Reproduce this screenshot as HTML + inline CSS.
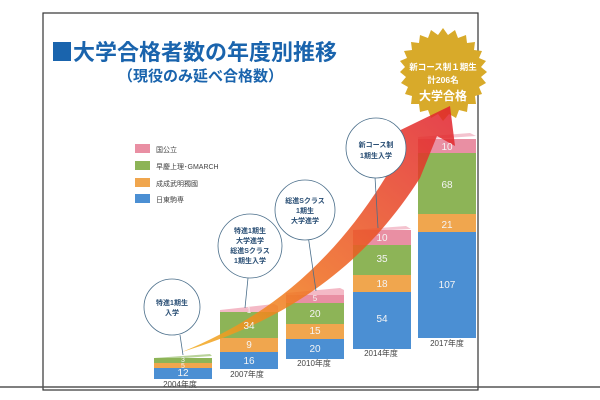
<!DOCTYPE html>
<html><head><meta charset="utf-8"><style>
body{margin:0;width:600px;height:400px;background:#fff;overflow:hidden}
svg{display:block}
text{font-family:"Liberation Sans","Noto Sans CJK JP",sans-serif}
</style></head><body>
<svg width="600" height="400" viewBox="0 0 600 400">
<defs>
<linearGradient id="ar" x1="0" y1="1" x2="1" y2="0">
<stop offset="0" stop-color="#f2b020"/><stop offset="0.4" stop-color="#ef6a1e"/><stop offset="1" stop-color="#e01f2e"/>
</linearGradient>
</defs>
<rect x="43" y="13" width="435" height="377" fill="none" stroke="#333" stroke-width="1.2"/>
<line x1="0" y1="387" x2="600" y2="387" stroke="#555" stroke-width="1.5"/>
<rect x="53" y="42" width="18" height="19" fill="#1a64ad"/>
<text x="73" y="60" font-size="22" font-weight="bold" fill="#1a64ad">大学合格者数の年度別推移</text>
<text x="118" y="81" font-size="15" font-weight="bold" fill="#1a64ad">（現役のみ延べ合格数）</text>
<!-- badge -->
<polygon fill="#d8aa2a" points="
443,28 448,35 455,30 458,38 466,35 467,43 475,42 474,50 482,51 479,58 486,61 481,67 487,72 481,77 486,83 479,87 482,94 475,96 476,104 468,104 467,112 459,110 456,118 449,114 443,121 438,114 431,118 428,110 420,112 419,104 411,104 412,96 405,94 408,87 401,83 406,77 400,72 405,67 400,61 407,58 404,51 412,50 411,42 419,43 420,35 428,38 431,30 438,35"/>
<text x="443" y="70" font-size="8.5" font-weight="bold" fill="#fff" text-anchor="middle">新コース制１期生</text>
<text x="443" y="83" font-size="8.5" font-weight="bold" fill="#fff" text-anchor="middle">計206名</text>
<text x="443" y="100" font-size="12" font-weight="bold" fill="#fff" text-anchor="middle">大学合格</text>
<!-- legend -->
<rect x="135" y="144" width="15" height="9" fill="#e98fa3"/>
<rect x="135" y="161" width="15" height="9" fill="#8db457"/>
<rect x="135" y="178" width="15" height="9" fill="#f0a64e"/>
<rect x="135" y="194" width="15" height="9" fill="#4b8fd3"/>
<g font-size="7" fill="#444">
<text x="156" y="152">国公立</text>
<text x="156" y="169">早慶上理･GMARCH</text>
<text x="156" y="186">成成武明獨國</text>
<text x="156" y="202">日東駒専</text>
</g>
<!-- bars -->
<g stroke="none">
<polygon points="154,358 210,354 212,356 156,360" fill="#b9d39a"/>
<rect x="154" y="358" width="58" height="5" fill="#8db457"/>
<rect x="154" y="363" width="58" height="5" fill="#f0a64e"/>
<rect x="154" y="368" width="58" height="11" fill="#4b8fd3"/>
<polygon points="220,310 274,304 278,306 278,312 220,314" fill="#f4b9c6"/>
<rect x="220" y="312" width="58" height="26" fill="#8db457"/>
<rect x="220" y="338" width="58" height="14" fill="#f0a64e"/>
<rect x="220" y="352" width="58" height="17" fill="#4b8fd3"/>
<polygon points="286,293 340,288 344,290 344,296 286,296" fill="#f4b9c6"/>
<rect x="286" y="295" width="58" height="8" fill="#e98fa3"/>
<rect x="286" y="303" width="58" height="21" fill="#8db457"/>
<rect x="286" y="324" width="58" height="15" fill="#f0a64e"/>
<rect x="286" y="339" width="58" height="20" fill="#4b8fd3"/>
<polygon points="353,230 406,226 411,229 353,232" fill="#f4c3cf"/>
<rect x="353" y="230" width="58" height="15" fill="#e98fa3"/>
<rect x="353" y="245" width="58" height="30" fill="#8db457"/>
<rect x="353" y="275" width="58" height="17" fill="#f0a64e"/>
<rect x="353" y="292" width="58" height="57" fill="#4b8fd3"/>
<polygon points="418,137 470,133 476,136 418,140" fill="#f4c3cf"/>
<rect x="418" y="139" width="58" height="14" fill="#e98fa3"/>
<rect x="418" y="153" width="58" height="61" fill="#8db457"/>
<rect x="418" y="214" width="58" height="18" fill="#f0a64e"/>
<rect x="418" y="232" width="58" height="106" fill="#4b8fd3"/>
</g>
<!-- arrow -->
<path d="M182,352 C260,320 330,270 390,170 L404,138 L380,140 L450,106 L455,146 L437,136 L420,178 C355,280 270,325 182,352 Z" fill="url(#ar)" opacity="0.85"/>
<!-- numbers -->
<g font-size="10" fill="#f4f4f4" text-anchor="middle">
<text x="183" y="362" font-size="7">3</text><text x="183" y="368" font-size="7">5</text><text x="183" y="376">12</text>
<text x="249" y="313" font-size="8">1</text><text x="249" y="329">34</text><text x="249" y="348">9</text><text x="249" y="364">16</text>
<text x="315" y="301" font-size="8">5</text><text x="315" y="317">20</text><text x="315" y="334">15</text><text x="315" y="352">20</text>
<text x="382" y="241">10</text><text x="382" y="262">35</text><text x="382" y="287">18</text><text x="382" y="322">54</text>
<text x="447" y="150">10</text><text x="447" y="188">68</text><text x="447" y="228">21</text><text x="447" y="288">107</text>
</g>
<g font-size="8" fill="#444" text-anchor="middle">
<text x="180" y="387">2004年度</text>
<text x="247" y="377">2007年度</text>
<text x="314" y="366">2010年度</text>
<text x="381" y="356">2014年度</text>
<text x="447" y="346">2017年度</text>
</g>
<!-- callouts -->
<g fill="#fff" stroke="#4a6e8a" stroke-width="0.8">
<line x1="180" y1="335" x2="183" y2="355"/>
<circle cx="172" cy="307" r="28"/>
<line x1="248" y1="278" x2="245" y2="308"/>
<circle cx="250" cy="246" r="32"/>
<line x1="308" y1="235" x2="316" y2="291"/>
<circle cx="305" cy="210" r="30"/>
<line x1="375" y1="177" x2="378" y2="228"/>
<circle cx="376" cy="148" r="30"/>
</g>
<g font-size="7" font-weight="bold" fill="#2a4f75" text-anchor="middle">
<text x="172" y="305">特進1期生</text><text x="172" y="315">入学</text>
<text x="250" y="233">特進1期生</text><text x="250" y="243">大学進学</text><text x="250" y="253">総進Sクラス</text><text x="250" y="263">1期生入学</text>
<text x="305" y="203">総進Sクラス</text><text x="305" y="213">1期生</text><text x="305" y="223">大学進学</text>
<text x="376" y="147">新コース制</text><text x="376" y="158">1期生入学</text>
</g>
</svg>
</body></html>
